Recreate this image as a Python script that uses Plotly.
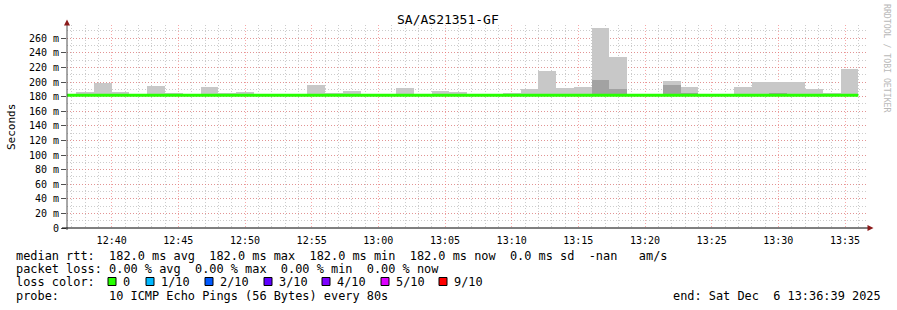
import pandas as pd
import plotly.graph_objects as go

# ---------------- data ----------------
title_text = "SA/AS21351-GF"
bin_first_start = "2025-12-06 12:36:00"
bin_step_s = 80
# per 80 s bin: top of light smoke, top of dark smoke, bottom of smoke, median (ms)
smoke_max = [182, 187, 199, 187, 182, 195, 185, 182, 193.5, 185, 187, 182, 182, 182, 196,
             185, 188, 182, 182, 192, 184, 188, 187, 182, 182, 185, 191, 215, 192, 193,
             274, 234, 182, 182, 201.5, 193.5, 182, 182, 193.5, 200, 200, 200, 191, 185, 218]
smoke_dark = [182, 182, 182, 182, 182, 182, 182, 182, 182, 182, 182, 182, 182, 182, 182,
              182, 182, 182, 182, 182, 182, 182, 182, 182, 182, 182, 182, 182, 182, 182,
              203, 191, 182, 182, 196, 185, 182, 182, 182, 182, 185, 182, 182, 182, 182]
smoke_min = [182, 182, 182, 182, 182, 182, 182, 182, 182, 182, 182, 182, 182, 182, 182,
             182, 182, 182, 182, 182, 182, 182, 182, 182, 182, 182, 182, 182, 182, 182,
             182, 182, 182, 182, 182, 182, 182, 182, 182, 182, 182, 182, 182, 182, 182]
median_rtt = [182.0, 182.0, 182.0, 182.0, 182.0, 182.0, 182.0, 182.0, 182.0, 182.0, 182.0, 182.0,
              182.0, 182.0, 182.0, 182.0, 182.0, 182.0, 182.0, 182.0, 182.0, 182.0, 182.0, 182.0,
              182.0, 182.0, 182.0, 182.0, 182.0, 182.0, 182.0, 182.0, 182.0, 182.0, 182.0, 182.0,
              182.0, 182.0, 182.0, 182.0, 182.0, 182.0, 182.0, 182.0, 182.0]

x_range = ["2025-12-06 12:36:39", "2025-12-06 13:36:39"]
y_tick_vals = [0, 20, 40, 60, 80, 100, 120, 140, 160, 180, 200, 220, 240, 260]
y_tick_text = ["0", "20 m", "40 m", "60 m", "80 m", "100 m", "120 m", "140 m", "160 m",
               "180 m", "200 m", "220 m", "240 m", "260 m"]

stat_line1 = "median rtt:  182.0 ms avg  182.0 ms max  182.0 ms min  182.0 ms now  0.0 ms sd  -nan   am/s"
stat_line2 = "packet loss: 0.00 % avg  0.00 % max  0.00 % min  0.00 % now"
loss_label = "loss color:"
loss_names = ["0", "1/10", "2/10", "3/10", "4/10", "5/10", "9/10"]
loss_colors = ["#26ff00", "#00b8ff", "#0059ff", "#5e00ff", "#7e00ff", "#dd00ff", "#ff0000"]
probe_line = "probe:       10 ICMP Echo Pings (56 Bytes) every 80s"
end_line = "end: Sat Dec  6 13:36:39 2025"
watermark = "RRDTOOL / TOBI OETIKER"

# ---------------- build ----------------
n = len(median_rtt)
starts = pd.date_range(bin_first_start, periods=n, freq=f"{bin_step_s}s")
centers = starts + pd.Timedelta(seconds=bin_step_s / 2)
edges = list(starts) + [starts[-1] + pd.Timedelta(seconds=bin_step_s)]

W, H = 897, 310
L, R, T, B = 67, 30, 25, 82
PW, PH = W - L - R, H - T - B


def fx(px):
    return (px - L) / PW


def fy(py):
    return (H - B - py) / PH


MONO = "DejaVu Sans Mono"
fig = go.Figure()

fig.add_trace(go.Bar(
    x=centers, y=[a - b for a, b in zip(smoke_max, smoke_min)], base=smoke_min,
    width=bin_step_s * 1000, marker=dict(color="#c8c8c8", line=dict(width=0)),
    hoverinfo="skip", showlegend=False))
fig.add_trace(go.Bar(
    x=centers, y=[a - b for a, b in zip(smoke_dark, smoke_min)], base=smoke_min,
    width=bin_step_s * 1000, marker=dict(color="#a2a2a2", line=dict(width=0)),
    hoverinfo="skip", showlegend=False))
fig.add_trace(go.Scatter(
    x=edges, y=median_rtt + [median_rtt[-1]], mode="lines",
    line=dict(color="#26ff00", width=3, shape="hv"), hoverinfo="skip", showlegend=False))

grid_dash = "1px,2px"
major_col = "rgba(240,110,110,0.6)"
minor_col = "rgba(170,170,170,0.6)"
fig.update_layout(
    width=W, height=H, autosize=False,
    margin=dict(l=L, r=R, t=T, b=B, pad=0),
    paper_bgcolor="white", plot_bgcolor="white",
    barmode="overlay", bargap=0,
    font=dict(family=MONO, size=10, color="#000000"),
    xaxis=dict(
        type="date", range=x_range, tickformat="%H:%M",
        tick0="2025-12-06 12:00:00", dtick=300000,
        showgrid=True, gridcolor=major_col, griddash=grid_dash, gridwidth=1,
        minor=dict(tick0="2025-12-06 12:00:00", dtick=60000, showgrid=True,
                   gridcolor=minor_col, griddash=grid_dash, gridwidth=1),
        ticks="outside", ticklen=3, tickcolor="rgba(0,0,0,0)",
        tickfont=dict(family=MONO, size=10, color="#000000"),
        showline=False, zeroline=False, fixedrange=True),
    yaxis=dict(
        range=[0, 278.2], tickmode="array", tickvals=y_tick_vals, ticktext=y_tick_text,
        showgrid=True, gridcolor=major_col, griddash=grid_dash, gridwidth=1,
        minor=dict(tickmode="linear", tick0=0, dtick=10, showgrid=True,
                   gridcolor=minor_col, griddash=grid_dash, gridwidth=1),
        ticks="outside", ticklen=5, tickcolor="#505050",
        tickfont=dict(family=MONO, size=10, color="#000000"),
        showline=False, zeroline=False, fixedrange=True),
)

shapes = []
# axes
shapes.append(dict(type="line", xref="paper", yref="paper", x0=fx(67), x1=fx(67),
                   y0=fy(230), y1=fy(22), line=dict(color="#505050", width=1)))
shapes.append(dict(type="line", xref="paper", yref="paper", x0=fx(62), x1=fx(868),
                   y0=fy(228), y1=fy(228), line=dict(color="#000000", width=1)))
# arrows
shapes.append(dict(type="path", xref="paper", yref="paper",
                   path=f"M {fx(64)},{fy(25.5)} L {fx(70)},{fy(25.5)} L {fx(67)},{fy(19.5)} Z",
                   fillcolor="#8b1a1a", line=dict(width=0)))
shapes.append(dict(type="path", xref="paper", yref="paper",
                   path=f"M {fx(867.5)},{fy(225)} L {fx(867.5)},{fy(231)} L {fx(873.5)},{fy(228)} Z",
                   fillcolor="#8b1a1a", line=dict(width=0)))

annotations = []


def txt(s, x, y, size=11.9, xanchor="left", color="#000000", angle=0):
    annotations.append(dict(
        text=s.replace(" ", "\u00a0"), x=fx(x), y=fy(y), xref="paper", yref="paper",
        xanchor=xanchor, yanchor="middle", showarrow=False, textangle=angle,
        borderpad=0, borderwidth=0,
        font=dict(family=MONO, size=size, color=color)))


txt(title_text, 448, 20, size=13, xanchor="center")
txt("Seconds", 11, 127, size=11, xanchor="center", angle=-90)
txt(watermark, 887, 59, size=8.2, xanchor="center", color="#b8b8b8", angle=90)
txt(stat_line1, 16, 255.5)
txt(stat_line2, 16, 269)
txt(loss_label, 16, 282)
txt(probe_line, 16, 296)
txt(end_line, 881, 296, xanchor="right")

box_x = [108, 146, 205, 264, 322, 381, 439]
for bx, name, col in zip(box_x, loss_names, loss_colors):
    shapes.append(dict(type="rect", xref="paper", yref="paper",
                       x0=fx(bx), x1=fx(bx + 8), y0=fy(285.5), y1=fy(277.5),
                       fillcolor=col, line=dict(color="#000000", width=1)))
    txt(name, bx + 15, 282)

fig.update_layout(shapes=shapes, annotations=annotations)
fig.write_html("out.html")
